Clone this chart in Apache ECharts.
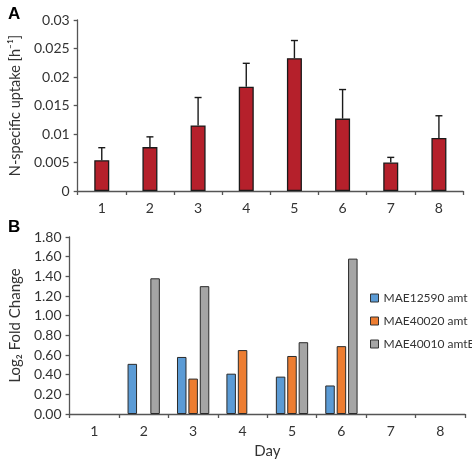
<!DOCTYPE html>
<html>
<head>
<meta charset="utf-8">
<script src="https://cdn.jsdelivr.net/npm/echarts@6/dist/echarts.min.js"></script>
<style>html,body{margin:0;padding:0;background:#fff}#c{width:472px;height:460px}</style>
</head>
<body>
<div id="c"></div>
<script>
const days = ['1','2','3','4','5','6','7','8'];
const uptake = [0.0054, 0.0077, 0.0115, 0.0183, 0.0233, 0.0127, 0.0050, 0.0093];
const uptakeErrTop = [0.0076, 0.0095, 0.0164, 0.0224, 0.0264, 0.0178, 0.0059, 0.0132];
const seriesNames = ['MAE12590 amt', 'MAE40020 amt', 'MAE40010 amtB'];
const mae12590 = [null, 0.51, 0.58, 0.41, 0.38, 0.29, null, null];
const mae40020 = [null, null, 0.36, 0.65, 0.59, 0.69, null, null];
const mae40010 = [null, 1.38, 1.30, null, 0.73, 1.58, null, null];

const FONT = 'Lato, "Open Sans", sans-serif';
const TXT = '#333';
const AX = '#555';

const chart = echarts.init(document.getElementById('c'), null, {renderer: 'canvas'});

const axisCommon = {
  axisLine: {show: true, lineStyle: {color: AX, width: 1.3}},
  axisTick: {show: true, length: 4, lineStyle: {color: AX, width: 1.3}},
  splitLine: {show: false},
  axisLabel: {color: TXT, fontFamily: FONT, fontSize: 14}
};

chart.setOption({
  animation: false,
  backgroundColor: '#fff',
  title: [
    {text: 'A', left: 3, top: 1, textStyle: {fontFamily: 'Liberation Sans, Arial, sans-serif', fontWeight: 'bold', fontSize: 17, color: '#000'}},
    {text: 'B', left: 3, top: 214, textStyle: {fontFamily: 'Liberation Sans, Arial, sans-serif', fontWeight: 'bold', fontSize: 17, color: '#000'}}
  ],
  legend: {
    orient: 'vertical',
    left: 370,
    top: 292,
    padding: 0,
    itemWidth: 8,
    itemHeight: 8,
    itemGap: 11,
    icon: 'rect',
    data: seriesNames,
    textStyle: {fontFamily: FONT, fontSize: 12, color: TXT},
    itemStyle: {borderColor: '#333', borderWidth: 1}
  },
  grid: [
    {left: 60, right: 9, top: 20, bottom: 269},
    {left: 57, right: 7, top: 237, bottom: 45}
  ],
  xAxis: [
    Object.assign({}, axisCommon, {
      type: 'category', gridIndex: 0, data: days, boundaryGap: true,
      axisTick: {show: true, length: 4, alignWithLabel: false, lineStyle: {color: AX, width: 1.3}},
      axisLabel: {color: TXT, fontFamily: FONT, fontSize: 14, margin: 10}
    }),
    Object.assign({}, axisCommon, {
      type: 'category', gridIndex: 1, data: days, boundaryGap: true,
      axisTick: {show: true, length: 4, alignWithLabel: false, lineStyle: {color: AX, width: 1.3}},
      axisLabel: {color: TXT, fontFamily: FONT, fontSize: 14, margin: 10},
      name: 'Day', nameLocation: 'middle', nameGap: 30,
      nameTextStyle: {fontFamily: FONT, fontSize: 15, color: TXT}
    })
  ],
  yAxis: [
    Object.assign({}, axisCommon, {
      type: 'value', gridIndex: 0, min: 0, max: 0.03, interval: 0.005,
      axisLabel: {color: TXT, fontFamily: FONT, fontSize: 14, margin: 8},
      name: 'N-specific uptake [h\u207B\u00B9]', nameLocation: 'middle', nameGap: 45,
      nameTextStyle: {fontFamily: FONT, fontSize: 14.5, color: TXT}
    }),
    Object.assign({}, axisCommon, {
      type: 'value', gridIndex: 1, min: 0, max: 1.8, interval: 0.2,
      axisLabel: {color: TXT, fontFamily: FONT, fontSize: 14, margin: 8, formatter: v => v.toFixed(2)},
      name: 'Log\u2082 Fold Change', nameLocation: 'middle', nameGap: 40,
      nameTextStyle: {fontFamily: FONT, fontSize: 15, color: TXT}
    })
  ],
  series: [
    {
      type: 'bar', xAxisIndex: 0, yAxisIndex: 0, data: uptake, barWidth: 15,
      itemStyle: {color: '#B5202B', borderColor: '#1a1a1a', borderWidth: 1.3},
      z: 2
    },
    {
      type: 'custom', xAxisIndex: 0, yAxisIndex: 0,
      data: uptake.map((v, i) => [i, v, uptakeErrTop[i]]),
      renderItem: function (params, api) {
        const base = api.coord([api.value(0), api.value(1)]);
        const top = api.coord([api.value(0), api.value(2)]);
        const hw = 3.5;
        const st = {stroke: '#1a1a1a', lineWidth: 1.4};
        return {
          type: 'group',
          children: [
            {type: 'line', shape: {x1: base[0], y1: base[1], x2: top[0], y2: top[1]}, style: st},
            {type: 'line', shape: {x1: top[0] - hw, y1: top[1], x2: top[0] + hw, y2: top[1]}, style: st}
          ]
        };
      },
      z: 1
    },
    {
      name: seriesNames[0], type: 'bar', xAxisIndex: 1, yAxisIndex: 1, data: mae12590,
      barWidth: 9.5, barGap: '20%',
      itemStyle: {color: '#5B9BD5', borderColor: '#2a2a2a', borderWidth: 1}
    },
    {
      name: seriesNames[1], type: 'bar', xAxisIndex: 1, yAxisIndex: 1, data: mae40020,
      barWidth: 9.5, barGap: '20%',
      itemStyle: {color: '#ED7D31', borderColor: '#2a2a2a', borderWidth: 1}
    },
    {
      name: seriesNames[2], type: 'bar', xAxisIndex: 1, yAxisIndex: 1, data: mae40010,
      barWidth: 9.5, barGap: '20%',
      itemStyle: {color: '#A5A5A5', borderColor: '#2a2a2a', borderWidth: 1}
    }
  ]
});
</script>
</body>
</html>
